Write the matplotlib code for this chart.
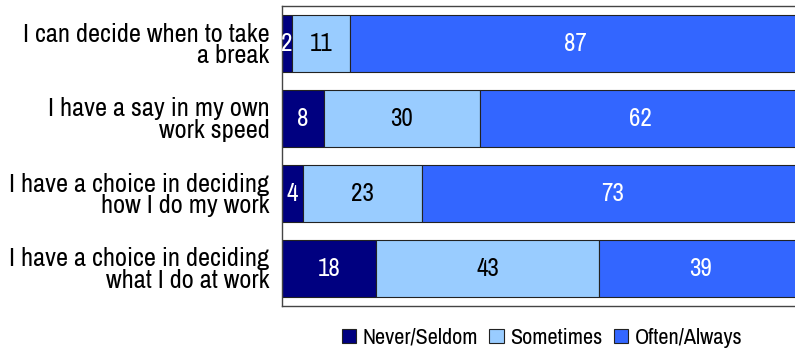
import numpy as np
import matplotlib
matplotlib.use("Agg")
from matplotlib import pyplot as plt

plt.rcParams['font.family'] = ['Archivo Narrow', 'DejaVu Sans']

# survey statements and answer shares (%)
statements = ["I can decide when to take\na break",
              "I have a say in my own\nwork speed",
              "I have a choice in deciding\nhow I do my work",
              "I have a choice in deciding\nwhat I do at work"]
never_seldom = [2, 8, 4, 18]
sometimes = [11, 30, 23, 43]
often_always = [87, 62, 73, 39]

series = [("Never/Seldom", never_seldom, "#000080", "white"),
          ("Sometimes", sometimes, "#99CCFF", "black"),
          ("Often/Always", often_always, "#3366FF", "white")]

fig = plt.figure(figsize=(7.95, 3.51), dpi=100)
# the plot area runs slightly past the right edge of the figure
ax = fig.add_axes([282 / 795, 45 / 351, 520 / 795, 300 / 351])

y = np.arange(len(statements))
left = np.zeros(len(statements))
for name, vals, col, tcol in series:
    vals = np.array(vals, dtype=float)
    ax.barh(y, vals, left=left, height=0.76, color=col, edgecolor="#222222",
            linewidth=0.8, label=name)
    for yi, l, v in zip(y, left, vals):
        ax.text(l + v / 2, yi, "%d" % v, ha="center", va="center",
                color=tcol, fontsize=18)
    left += vals

ax.set_xlim(0, 100)
ax.set_ylim(3.5, -0.5)
ax.set_yticks(y)
ax.set_yticklabels(statements, fontsize=19, linespacing=0.92)
ax.tick_params(axis="y", length=0, pad=9)
ax.set_xticks([])
for s in ax.spines.values():
    s.set_color("#444444")
    s.set_linewidth(1)

ax.legend(loc="upper center", bbox_to_anchor=(0.5, -0.043), ncol=3, frameon=False,
          fontsize=16, handlelength=0.65, handleheight=0.65, handletextpad=0.3,
          columnspacing=0.5, borderaxespad=0)

fig.savefig("out.png", dpi=100)
